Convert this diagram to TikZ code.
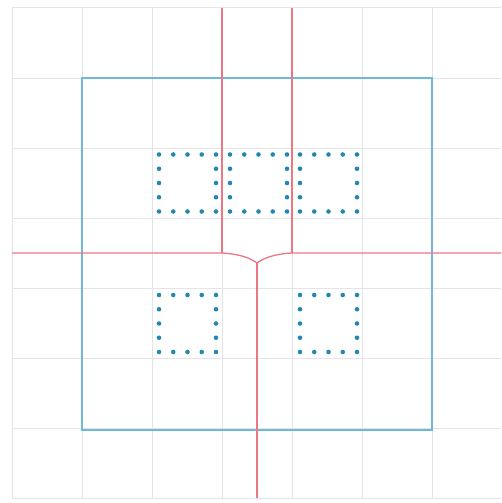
\documentclass[tikz,border=0pt]{standalone}
\definecolor{gridc}{RGB}{228,228,232}
\definecolor{bluec}{RGB}{110,185,215}
\definecolor{redc}{RGB}{238,118,132}
\definecolor{dotc}{RGB}{35,135,175}
\begin{document}
\begin{tikzpicture}[x=1pt,y=-1pt,
  gridline/.style={draw=gridc,line width=1pt},
  bluebox/.style={draw=bluec,line width=1.5pt},
  redline/.style={draw=redc,line width=1.3pt},
  dotsq/.style={fill=dotc}]
\useasboundingbox (0,0) rectangle (501,503);
% grid
\foreach \i in {0,...,6} \draw[gridline] (12+70*\i,8) -- (12+70*\i,498);
\foreach \j in {0,...,7} \draw[gridline] (12,8+70*\j) -- (501,8+70*\j);
% blue square
\draw[bluebox] (82,78) rectangle (432,430);
% dotted squares
\foreach \cx/\cy in {187.5/183, 258.5/183, 328.5/183, 187.5/323.5, 328.5/323.5}{
  \foreach \k in {0,...,4}{
    \fill[dotsq] (\cx-28.5+14.25*\k,\cy-28.5) circle (2.3);
    \fill[dotsq] (\cx-28.5+14.25*\k,\cy+28.5) circle (2.3);
  }
  \foreach \k in {1,...,3}{
    \fill[dotsq] (\cx-28.5,\cy-28.5+14.25*\k) circle (2.3);
    \fill[dotsq] (\cx+28.5,\cy-28.5+14.25*\k) circle (2.3);
  }
}
% red lines
\coordinate (jl) at (222,253);
\coordinate (jr) at (292,253);
\coordinate (jm) at (257,263);
\draw[redline] (222,8) -- (jl);
\draw[redline] (292,8) -- (jr);
\draw[redline] (12,253) -- (jl) .. controls (240,254) and (250,258) .. (jm)
  .. controls (264,258) and (274,254) .. (jr) -- (501,253);
\draw[redline] (jm) -- (257,498);
\end{tikzpicture}
\end{document}
